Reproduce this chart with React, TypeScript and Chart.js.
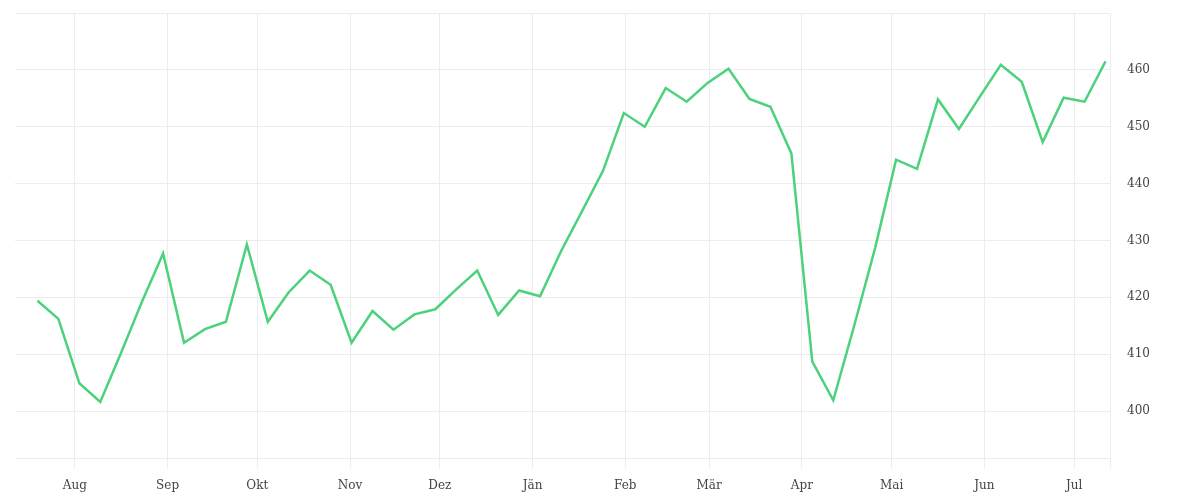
import { useEffect, useRef } from 'react';
import { Chart, registerables } from 'chart.js';

Chart.register(...registerables);

// weekly closing values
const weekDates = [
  '2022-07-19', '2022-07-26', '2022-08-02', '2022-08-09', '2022-08-16', '2022-08-23', '2022-08-30',
  '2022-09-06', '2022-09-13', '2022-09-20', '2022-09-27', '2022-10-04', '2022-10-11', '2022-10-18',
  '2022-10-25', '2022-11-01', '2022-11-08', '2022-11-15', '2022-11-22', '2022-11-29', '2022-12-06',
  '2022-12-13', '2022-12-20', '2022-12-27', '2023-01-03', '2023-01-10', '2023-01-17', '2023-01-24',
  '2023-01-31', '2023-02-07', '2023-02-14', '2023-02-21', '2023-02-28', '2023-03-07', '2023-03-14',
  '2023-03-21', '2023-03-28', '2023-04-04', '2023-04-11', '2023-04-18', '2023-04-25', '2023-05-02',
  '2023-05-09', '2023-05-16', '2023-05-23', '2023-05-30', '2023-06-06', '2023-06-13', '2023-06-20',
  '2023-06-27', '2023-07-04', '2023-07-11',
];

const weekValues = [
  419.4, 416.2, 404.9, 401.6, 410.3, 419.3, 427.7,
  412.0, 414.4, 415.7, 429.3, 415.7, 420.9, 424.7,
  422.2, 412.0, 417.6, 414.3, 417.0, 417.9, 421.4,
  424.7, 416.9, 421.2, 420.2, 428.1, 435.1, 442.2,
  452.4, 450.0, 456.8, 454.4, 457.7, 460.2, 454.9,
  453.5, 445.3, 408.7, 401.9, 415.0, 428.7, 444.2,
  442.6, 454.8, 449.6, 455.3, 460.9, 457.9, 447.3,
  455.1, 454.4, 461.5,
];

const monthTickDates = [
  '2022-08-01', '2022-09-01', '2022-10-01', '2022-11-01', '2022-12-01', '2023-01-01',
  '2023-02-01', '2023-03-01', '2023-04-01', '2023-05-01', '2023-06-01', '2023-07-01',
];
const monthLabels = ['Aug', 'Sep', 'Okt', 'Nov', 'Dez', 'Jän', 'Feb', 'Mär', 'Apr', 'Mai', 'Jun', 'Jul'];

const yTickValues = [400, 410, 420, 430, 440, 450, 460];
const yMin = 391.74;
const yMax = 470;
const xStart = '2022-07-12';
const xEnd = '2023-07-13';

const DAY = 86400000;
const toDay = (s: string) => Date.parse(s + 'T00:00:00Z') / DAY;

const gridColor = '#ececec';
const font = { family: '"DejaVu Serif", serif', size: 12 };

const App = () => {
  const canvasRef = useRef<HTMLCanvasElement | null>(null);
  const chartRef = useRef<Chart | null>(null);

  useEffect(() => {
    if (!canvasRef.current) return;
    const ctx = canvasRef.current.getContext('2d');
    if (!ctx) return;

    const points = weekDates.map((d, i) => ({ x: toDay(d) + 0.5, y: weekValues[i] }));
    const xMin = toDay(xStart);
    const xMax = toDay(xEnd);

    chartRef.current = new Chart(ctx, {
      type: 'line',
      data: {
        datasets: [
          {
            data: points,
            borderColor: '#4bd27b',
            borderWidth: 2.5,
            pointRadius: 0,
            tension: 0,
            fill: false,
          },
        ],
      },
      options: {
        animation: false,
        responsive: true,
        maintainAspectRatio: false,
        layout: { padding: { left: 15, top: 13, right: 0, bottom: 0 } },
        plugins: { legend: { display: false }, tooltip: { enabled: false } },
        scales: {
          x: {
            type: 'linear',
            min: xMin,
            max: xMax,
            afterBuildTicks: (scale: any) => {
              scale.ticks = [...monthTickDates.map((d) => ({ value: toDay(d) })), { value: xMax }];
            },
            afterFit: (scale: any) => {
              scale.height = 42;
              scale.paddingLeft = 0;
              scale.paddingRight = 0;
            },
            grid: { color: gridColor, tickLength: 10, drawTicks: true },
            border: { display: false },
            ticks: {
              autoSkip: false,
              maxRotation: 0,
              padding: 11,
              color: '#444',
              font,
              callback: (_v: any, i: number) => monthLabels[i] ?? '',
            },
          },
          y: {
            type: 'linear',
            position: 'right',
            min: yMin,
            max: yMax,
            afterBuildTicks: (scale: any) => {
              scale.ticks = [yMin, ...yTickValues, yMax].map((v) => ({ value: v }));
            },
            afterFit: (scale: any) => {
              scale.width = 90;
              scale.paddingTop = 0;
              scale.paddingBottom = 0;
            },
            grid: { color: gridColor, drawTicks: false },
            border: { display: false },
            ticks: {
              padding: 17,
              color: '#444',
              font,
              callback: (v: any) => (yTickValues.includes(Number(v)) ? String(v) : ''),
            },
          },
        },
      },
    });

    return () => {
      chartRef.current?.destroy();
      chartRef.current = null;
    };
  }, []);

  return (
    <div style={{ position: 'fixed', left: 0, top: 0, width: 1200, height: 500, background: '#fff' }}>
      <canvas ref={canvasRef}></canvas>
    </div>
  );
};

export default App;
